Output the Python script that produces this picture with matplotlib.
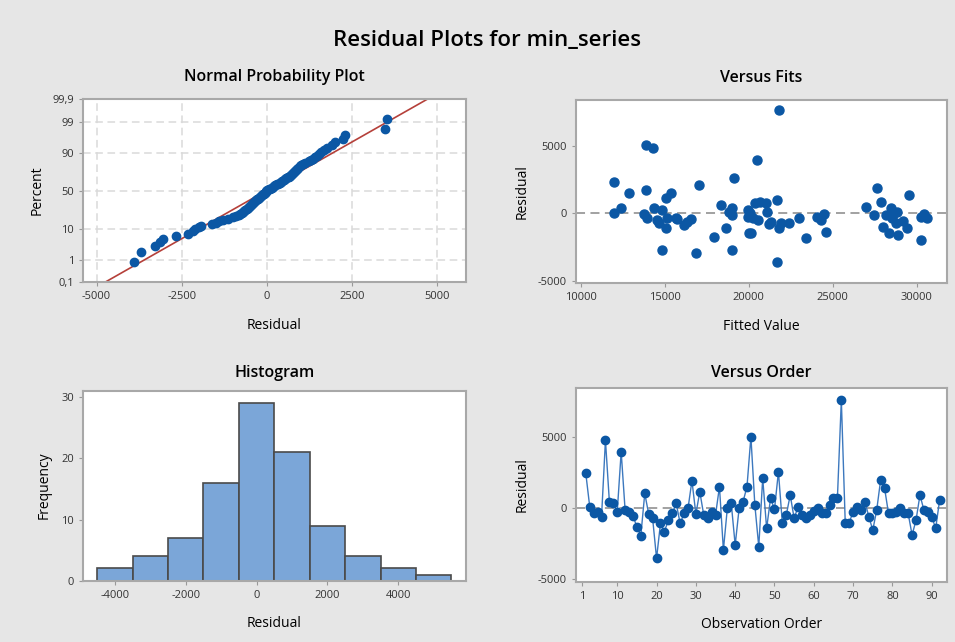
import numpy as np
import matplotlib.pyplot as plt
from statistics import NormalDist

plt.rcParams['font.family'] = ['Open Sans', 'DejaVu Sans']
plt.rcParams['axes.unicode_minus'] = False

# residuals sorted, for the normal probability plot
prob_resid = [-3905, -3690, -3300, -3143, -3045, -2655, -2324, -2166, -2100, -1990,
              -1950, -1620, -1500, -1420, -1300, -1150, -1000, -900, -820, -780,
              -740, -700, -670, -630, -600, -570, -540, -510, -480, -440,
              -410, -380, -350, -320, -300, -270, -240, -210, -180, -150,
              -130, -100, -70, -40, -15, 10, 60, 100, 135, 175,
              210, 250, 290, 330, 370, 400, 445, 486, 520, 565,
              605, 645, 682, 710, 735, 760, 800, 825, 860, 890,
              920, 955, 1000, 1060, 1130, 1220, 1290, 1340, 1400, 1460,
              1530, 1600, 1680, 1770, 1900, 2010, 2240, 2290, 3463, 3531]
fit_mean = -20
fit_sd = 1532
pct_ticks = [0.1, 1, 10, 50, 90, 99, 99.9]
pct_labels = ["0,1", "1", "10", "50", "90", "99", "99,9"]

# versus fits
fitted = [11966, 11966, 12365, 12860, 13873, 14272, 13873, 13753, 13950, 14350,
          14546, 14647, 14845, 15046, 15344, 15046, 14845, 15142, 15642, 15700,
          16136, 16333, 16536, 16834, 17048, 17924, 18323, 18621, 19014, 19115,
          19014, 18817, 19014, 19967, 19967, 20027, 20069, 20265, 20563, 20367,
          20664, 21022, 21100, 20503, 20110, 21814, 21695, 21302, 21220, 21814,
          21898, 22410, 21695, 23006, 23405, 24078, 24281, 24477, 24596, 26962,
          27653, 27855, 27456, 27975, 28172, 28368, 28451, 28648, 28767, 28845,
          28905, 29167, 29441, 29559, 30238, 30435, 30632, 30238, 28550]
fit_resid = [2340, 0, 370, 1480, 5050, 4800, 1720, -70, -370, 370,
             -500, -740, 240, 1110, 1480, -1110, -2710, -370, -370, -450,
             -860, -620, -440, -2960, 2090, -1730, 610, -1110, -2710, 2590,
             370, 70, -120, 240, -250, -1480, 0, -370, -500, 740,
             860, 740, 120, 3940, -1480, 7640, 980, -620, -800, -1110,
             -740, -740, -3570, -370, -1850, -250, -500, -70, -1360, 490,
             1850, 860, -120, -990, -120, -1480, 370, 0, -740, 120,
             -1600, -570, -1110, 1350, -250, -70, -370, -1970, -370]

# histogram
bin_centers = [-4000, -3000, -2000, -1000, 0, 1000, 2000, 3000, 4000, 5000]
counts = [2, 4, 7, 16, 29, 21, 9, 4, 2, 1]

# versus order (observations 2..92)
order_resid = [2420, 80, -390, -270, -670, 4750, 430, 310, -270, 3930,
               -150, -270, -580, -1320, -1950, 1010, -430, -740, -3540, -1090,
               -1670, -860, -390, 310, -1090, -390, -40, 1900, -430, 1130,
               -500, -740, -270, -500, 1480, -2960, -40, 310, -2610, -40,
               430, 1480, 4990, 200, -2720, 2070, -1440, 670, -100, 2530,
               -1090, -500, 900, -740, 80, -500, -740, -500, -200, -40,
               -340, -390, 200, 670, 670, 7560, -1090, -1040, -270, 80,
               -150, 430, -620, -1560, -150, 1960, 1380, -390, -390, -270,
               -40, -340, -390, -1910, -860, 900, -150, -270, -620, -1440, 550]
order_start = 2

blue = "#0B57A4"
spine_col = "#A8A8A8"
bg = "#E6E6E6"

fig = plt.figure(figsize=(9.55, 6.42), dpi=100, facecolor=bg)
fig.text(0.51, 0.937, "Residual Plots for min_series", ha="center", va="center",
         fontsize=16, fontweight="semibold")


def style(ax):
    ax.set_facecolor("white")
    for s in ax.spines.values():
        s.set_color(spine_col)
        s.set_linewidth(1.5)
    ax.tick_params(colors="#333333", labelsize=8, length=3, width=0.8, color="#999999")


nd = NormalDist()

# normal probability plot
ax1 = fig.add_axes([0.0872, 0.5603, 0.4004, 0.2855])
style(ax1)
n = len(prob_resid)
z = [nd.inv_cdf((i + 1 - 0.3) / (n + 0.4)) for i in range(n)]
zlim = nd.inv_cdf(0.999)
ax1.set_ylim(-zlim, zlim)
ax1.set_xlim(-5390, 5830)
yt = [nd.inv_cdf(p / 100) for p in pct_ticks]
ax1.set_yticks(yt)
ax1.set_yticklabels(pct_labels)
ax1.set_xticks([-5000, -2500, 0, 2500, 5000])
ax1.grid(True, color="#DADADA", linestyle=(0, (5, 3)), linewidth=1.1)
ax1.set_axisbelow(True)
ax1.plot([fit_mean - zlim * fit_sd, fit_mean + zlim * fit_sd], [-zlim, zlim],
         color="#B5403A", linewidth=1.2, zorder=2)
ax1.plot(prob_resid, z, "o", color=blue, markersize=6, zorder=3)
ax1.set_title("Normal Probability Plot", fontsize=11.5, pad=13, fontweight="semibold")
ax1.set_xlabel("Residual", fontsize=10, labelpad=11)
ax1.set_ylabel("Percent", fontsize=10, labelpad=6)

# versus fits
ax2 = fig.add_axes([0.6031, 0.5587, 0.3882, 0.2855])
style(ax2)
ax2.axhline(0, color="#9A9A9A", linestyle=(0, (5, 3)), linewidth=1.3, zorder=1)
ax2.plot(fitted, fit_resid, "o", color=blue, markersize=6.5, zorder=3)
ax2.set_xlim(9700, 31790)
ax2.set_ylim(-5170, 8370)
ax2.set_xticks([10000, 15000, 20000, 25000, 30000])
ax2.set_yticks([-5000, 0, 5000])
ax2.set_title("Versus Fits", fontsize=11.5, pad=13, fontweight="semibold")
ax2.set_xlabel("Fitted Value", fontsize=10, labelpad=11)
ax2.set_ylabel("Residual", fontsize=10, labelpad=6)

# histogram
ax3 = fig.add_axes([0.0872, 0.0955, 0.4004, 0.296])
style(ax3)
ax3.bar(bin_centers, counts, width=1000, color="#7BA6D8", edgecolor="#4A4A4A",
        linewidth=1.2)
ax3.set_xlim(-4895, 5904)
ax3.set_ylim(0, 31.1)
ax3.set_xticks([-4000, -2000, 0, 2000, 4000])
ax3.set_yticks([0, 10, 20, 30])
ax3.set_title("Histogram", fontsize=11.5, pad=10, fontweight="semibold")
ax3.set_xlabel("Residual", fontsize=10, labelpad=11)
ax3.set_ylabel("Frequency", fontsize=10, labelpad=7)

# versus order
ax4 = fig.add_axes([0.6031, 0.0939, 0.3882, 0.3012])
style(ax4)
obs = np.arange(order_start, order_start + len(order_resid))
ax4.axhline(0, color="#9A9A9A", linestyle=(0, (5, 3)), linewidth=1.3, zorder=1)
ax4.plot(obs, order_resid, "-", color="#3C78BE", linewidth=1.0, zorder=2)
ax4.plot(obs, order_resid, "o", color=blue, markersize=6, zorder=3)
ax4.set_xlim(-0.5, 93.8)
ax4.set_ylim(-5180, 8380)
ax4.set_xticks([1, 10, 20, 30, 40, 50, 60, 70, 80, 90])
ax4.set_yticks([-5000, 0, 5000])
ax4.set_title("Versus Order", fontsize=11.5, pad=8, fontweight="semibold")
ax4.set_xlabel("Observation Order", fontsize=10, labelpad=11)
ax4.set_ylabel("Residual", fontsize=10, labelpad=6)

fig.savefig("out.png", dpi=100, facecolor=bg)
